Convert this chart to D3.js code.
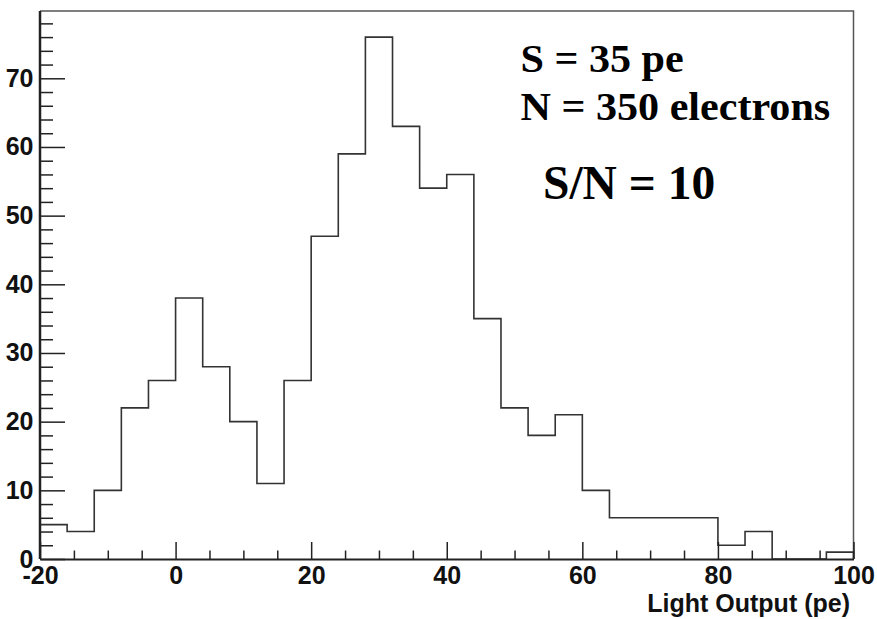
<!DOCTYPE html>
<html>
<head>
<meta charset="utf-8">
<script src="https://cdn.jsdelivr.net/npm/d3@7"></script>
<style>
  html, body { margin: 0; padding: 0; background: #fff; }
  svg { display: block; }
  .tick text { font-family: "Liberation Sans", Arial, sans-serif; font-weight: bold; font-size: 25px; fill: #111; }
</style>
</head>
<body>
<svg id="chart" width="877" height="619"></svg>
<script>
// Histogram of light output: 30 bins of 4 pe from -20 to 100
const binEdges = [-20, -16, -12, -8, -4, 0, 4, 8, 12, 16, 20, 24, 28, 32, 36, 40,
                  44, 48, 52, 56, 60, 64, 68, 72, 76, 80, 84, 88, 92, 96, 100];
const counts = [5, 4, 10, 22, 26, 38, 28, 20, 11, 26, 47, 59, 76, 63, 54, 56,
                35, 22, 18, 21, 10, 6, 6, 6, 6, 2, 4, 0, 0, 1];
const xMajorTicks = [-20, 0, 20, 40, 60, 80, 100];
const yMajorTicks = [0, 10, 20, 30, 40, 50, 60, 70];
const xTitle = "Light Output (pe)";
const annotations = ["S = 35 pe", "N = 350 electrons"];
const ratioLabel = "S/N = 10";

const svg = d3.select("#chart");
const plotL = 40, plotR = 853.5, plotT = 11, plotB = 559;

const x = d3.scaleLinear().domain([-20, 100]).range([plotL, plotR]);
const yMax = d3.max(counts) * 1.05;
const y = d3.scaleLinear().domain([0, yMax]).range([plotB, plotT]);

// plain ASCII labels (hyphen-minus for negatives)
const plainLabel = d => String(d);

// minor ticks
const xMinor = d3.range(-20, 100.01, 5).filter(v => !xMajorTicks.includes(v));
const yMinor = d3.range(0, yMax, 2).filter(v => !yMajorTicks.includes(v));

// frame (top and right)
svg.append("path")
  .attr("d", `M${plotL},${plotT}H${plotR}V${plotB}`)
  .attr("fill", "none").attr("stroke", "#555").attr("stroke-width", 1.5);

// histogram outline
const pts = [[binEdges[0], 0]];
counts.forEach((c, i) => pts.push([binEdges[i], c]));
pts.push([binEdges[binEdges.length - 1], counts[counts.length - 1]]);
pts.push([binEdges[binEdges.length - 1], 0]);
const line = d3.line().x(d => x(d[0])).y(d => y(d[1])).curve(d3.curveStepAfter);
svg.append("path").attr("d", line(pts))
  .attr("fill", "none").attr("stroke", "#333").attr("stroke-width", 1.6);

// x axis
const gx = svg.append("g").attr("transform", `translate(0,${plotB})`);
gx.call(d3.axisBottom(x).tickValues(xMajorTicks).tickFormat(plainLabel)
  .tickSizeInner(-17).tickSizeOuter(0).tickPadding(7));
gx.append("g").call(d3.axisBottom(x).tickValues(xMinor).tickFormat("")
  .tickSizeInner(-8.5).tickSizeOuter(0))
  .select(".domain").remove();
gx.selectAll(".domain").attr("stroke", "#222").attr("stroke-width", 2);
gx.selectAll(".tick line").attr("stroke", "#222").attr("stroke-width", 1.5);

// y axis
const gy = svg.append("g").attr("transform", `translate(${plotL},0)`);
gy.call(d3.axisLeft(y).tickValues(yMajorTicks).tickFormat(plainLabel)
  .tickSizeInner(-25).tickSizeOuter(0).tickPadding(6.5));
gy.append("g").call(d3.axisLeft(y).tickValues(yMinor).tickFormat("")
  .tickSizeInner(-13).tickSizeOuter(0))
  .select(".domain").remove();
gy.select(".domain").attr("d", `M0,${plotT}V${plotB}`)
  .attr("stroke", "#222").attr("stroke-width", 2.5);
gy.selectAll(".tick line").attr("stroke", "#222").attr("stroke-width", 1.5);

// axis title
svg.append("text")
  .attr("x", 850).attr("y", 611.5)
  .attr("text-anchor", "end")
  .attr("font-family", "'Liberation Sans', Arial, sans-serif")
  .attr("font-weight", "bold").attr("font-size", 25).attr("fill", "#111")
  .text(xTitle);

// annotation block
const ann = svg.append("g")
  .attr("font-family", "'Liberation Serif', 'Times New Roman', serif")
  .attr("font-weight", "bold").attr("fill", "#000");
annotations.forEach((t, i) => {
  ann.append("text")
    .attr("transform", `translate(520.5,${72 + i * 48}) scale(1.08,1)`)
    .attr("font-size", 39)
    .text(t);
});
ann.append("text")
  .attr("x", 543).attr("y", 198.5)
  .attr("font-size", 47.5)
  .text(ratioLabel);
</script>
</body>
</html>
